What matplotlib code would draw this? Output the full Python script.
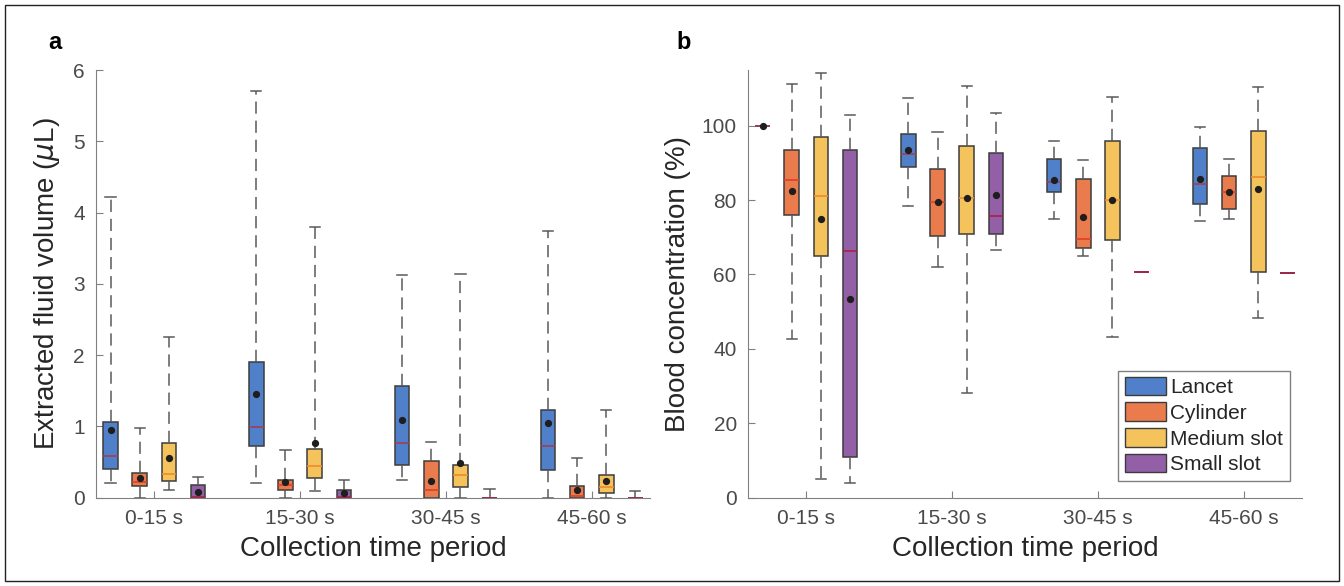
import matplotlib.pyplot as plt
from matplotlib.patches import Rectangle, Patch

plt.rcParams["font.family"] = ["Liberation Sans", "DejaVu Sans"]

periods = ["0-15 s", "15-30 s", "30-45 s", "45-60 s"]
methods = ["Lancet", "Cylinder", "Medium slot", "Small slot"]
box_colors = ["#4f80c9", "#e97b4c", "#f4c35c", "#935fa6"]
median_colors = ["#a0405a", "#e0402a", "#f08a2a", "#a82048"]

# (whislo, q1, median, q3, whishi, mean) per period
vol_lancet = [(0.21, 0.40, 0.58, 1.06, 4.22, 0.945),
              (0.20, 0.72, 0.99, 1.90, 5.71, 1.45),
              (0.25, 0.45, 0.77, 1.57, 3.12, 1.09),
              (0.0, 0.39, 0.73, 1.23, 3.74, 1.05)]
vol_cylinder = [(0.0, 0.16, 0.22, 0.34, 0.97, 0.27),
                (0.0, 0.11, 0.17, 0.25, 0.67, 0.215),
                (0.0, 0.0, 0.10, 0.51, 0.78, 0.23),
                (0.0, 0.0, 0.02, 0.16, 0.56, 0.11)]
vol_medium = [(0.11, 0.23, 0.33, 0.76, 2.25, 0.55),
              (0.09, 0.28, 0.44, 0.68, 3.80, 0.77),
              (0.0, 0.15, 0.32, 0.45, 3.14, 0.48),
              (0.0, 0.07, 0.15, 0.32, 1.23, 0.23)]
vol_small = [(0.0, 0.0, 0.01, 0.17, 0.29, 0.08),
             (0.0, 0.0, 0.01, 0.11, 0.25, 0.06),
             (0.0, 0.0, 0.0, 0.0, 0.12, None),
             (0.0, 0.0, 0.0, 0.0, 0.09, None)]

conc_lancet = [(100.0, 100.0, 100.0, 100.0, 100.0, 100.0),
               (78.5, 88.8, 92.4, 97.8, 107.5, 93.4),
               (75.0, 82.1, 85.0, 91.1, 95.8, 85.5),
               (74.4, 79.0, 84.4, 94.1, 99.8, 85.6)]
conc_cylinder = [(42.6, 75.9, 85.3, 93.5, 111.3, 82.5),
                 (62.1, 70.4, 79.6, 88.4, 98.2, 79.6),
                 (65.0, 67.2, 69.6, 85.7, 90.7, 75.4),
                 (75.0, 77.6, 82.1, 86.5, 91.0, 82.3)]
conc_medium = [(4.9, 65.0, 81.0, 97.1, 114.2, 75.0),
               (28.0, 70.9, 80.7, 94.6, 110.6, 80.5),
               (43.1, 69.2, 80.1, 96.0, 107.7, 80.1),
               (48.4, 60.8, 86.1, 98.5, 110.4, 83.0)]
conc_small = [(4.0, 10.95, 66.2, 93.4, 102.8, 53.4),
              (66.6, 70.9, 75.6, 92.6, 103.4, 81.4),
              (60.7, 60.7, 60.7, 60.7, 60.7, None),
              (60.5, 60.5, 60.5, 60.5, 60.5, None)]

offsets = [-0.3, -0.1, 0.1, 0.3]
grey = "#808080"
text_grey = "#4a4a4a"


def draw_panel(ax, series, ylim, yticks, ylabel):
    for k, rows in enumerate(series):
        stats = []
        for (lo, q1, med, q3, hi, mean) in rows:
            stats.append(dict(whislo=lo, q1=q1, med=med, q3=q3, whishi=hi, fliers=[]))
        pos = [i + 1 + offsets[k] for i in range(len(rows))]
        ax.bxp(stats, positions=pos, widths=0.1, capwidths=0.07, patch_artist=True,
               showfliers=False,
               boxprops=dict(facecolor=box_colors[k], edgecolor="#3c3c3c", linewidth=1.1),
               medianprops=dict(color=median_colors[k], linewidth=1.2),
               whiskerprops=dict(color="#5a5a5a", linewidth=1.1, dashes=(8, 4.5)),
               capprops=dict(color="#5a5a5a", linewidth=1.1))
        for p, r in zip(pos, rows):
            if r[5] is not None:
                ax.plot(p, r[5], "o", color="#1e1e1e", markersize=4.2, zorder=5)
    ax.set_xlim(0.6, 4.4)
    ax.set_ylim(*ylim)
    ax.set_xticks([1, 2, 3, 4])
    ax.set_xticklabels(periods)
    ax.set_yticks(yticks)
    ax.tick_params(direction="in", length=5, color=grey, labelcolor=text_grey,
                   labelsize=15, pad=8)
    for s in ["top", "right"]:
        ax.spines[s].set_visible(False)
    for s in ["left", "bottom"]:
        ax.spines[s].set_color(grey)
    ax.set_xlabel("Collection time period", fontsize=20, color="#262626", labelpad=6)
    ax.set_ylabel(ylabel, fontsize=20, color="#262626", labelpad=8)


fig = plt.figure(figsize=(13.44, 5.86), dpi=100)
ax1 = fig.add_axes([0.0714, 0.151, 0.4122, 0.7295])
ax2 = fig.add_axes([0.5565, 0.151, 0.4123, 0.7295])

draw_panel(ax1, [vol_lancet, vol_cylinder, vol_medium, vol_small],
           (0, 6), [0, 1, 2, 3, 4, 5, 6], r"Extracted fluid volume ($\mu$L)")
draw_panel(ax2, [conc_lancet, conc_cylinder, conc_medium, conc_small],
           (0, 115), [0, 20, 40, 60, 80, 100], "Blood concentration (%)")

handles = [Patch(facecolor=c, edgecolor="#3c3c3c") for c in box_colors]
leg = ax2.legend(handles, methods, loc="lower right", bbox_to_anchor=(0.985, 0.03),
                 fontsize=15, handlelength=2.0, handleheight=1.0, labelspacing=0.25,
                 handletextpad=0.2, borderpad=0.3, borderaxespad=0.2,
                 fancybox=False, framealpha=1)
leg.get_frame().set_edgecolor(grey)
for t in leg.get_texts():
    t.set_color("#262626")

fig.text(0.036, 0.917, "a", fontsize=17, fontweight="bold")
fig.text(0.503, 0.917, "b", fontsize=17, fontweight="bold")

fig.patches.append(Rectangle((0.004, 0.008), 0.992, 0.984, transform=fig.transFigure,
                             fill=False, edgecolor="#222222", linewidth=1.0))

fig.savefig("out.png", dpi=100)
